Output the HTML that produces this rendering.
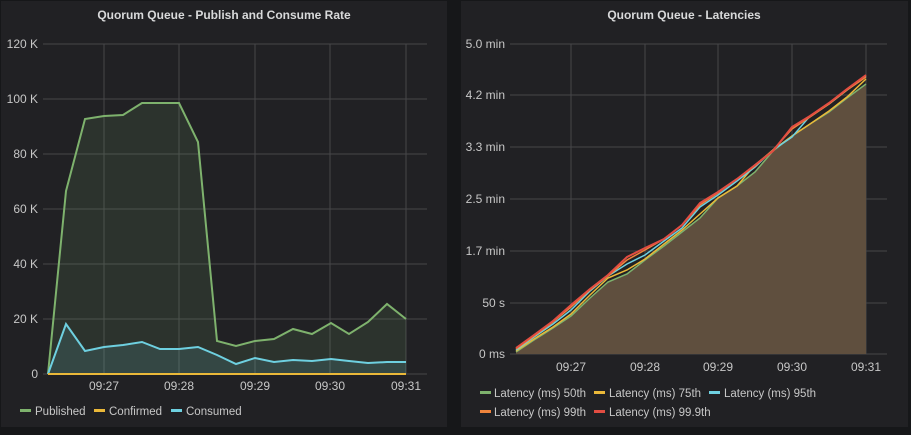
<!DOCTYPE html>
<html><head><style>
body{margin:0;background:#161719;width:911px;height:430px;overflow:hidden;font-family:"Liberation Sans",sans-serif}
svg text{font-family:"Liberation Sans",sans-serif}
</style></head><body>
<svg width="911" height="430" xmlns="http://www.w3.org/2000/svg">
<rect x="0" y="0" width="911" height="430" fill="#161719"/>
<rect x="1" y="1" width="446" height="426" fill="#212124"/>
<rect x="461" y="1" width="447" height="426" fill="#212124"/>
<text x="224" y="19" fill="#d8d9da" font-size="12" font-weight="bold" text-anchor="middle">Quorum Queue - Publish and Consume Rate</text>
<text x="684" y="19" fill="#d8d9da" font-size="12" font-weight="bold" text-anchor="middle">Quorum Queue - Latencies</text>
<g stroke="#464649" stroke-width="1">
<line x1="43" y1="44" x2="427" y2="44"/><line x1="43" y1="99" x2="427" y2="99"/><line x1="43" y1="154" x2="427" y2="154"/><line x1="43" y1="209" x2="427" y2="209"/><line x1="43" y1="264" x2="427" y2="264"/><line x1="43" y1="319" x2="427" y2="319"/><line x1="43" y1="374" x2="427" y2="374"/>
<line x1="104" y1="44" x2="104" y2="374"/><line x1="179" y1="44" x2="179" y2="374"/><line x1="255" y1="44" x2="255" y2="374"/><line x1="330" y1="44" x2="330" y2="374"/><line x1="406" y1="44" x2="406" y2="374"/>
</g>
<g fill="#c7c7c7" font-size="12" text-anchor="end">
<text x="38" y="48">120 K</text><text x="38" y="103">100 K</text><text x="38" y="158">80 K</text><text x="38" y="213">60 K</text><text x="38" y="268">40 K</text><text x="38" y="323">20 K</text><text x="38" y="378">0</text>
</g>
<g fill="#c7c7c7" font-size="12" text-anchor="middle">
<text x="104" y="390">09:27</text><text x="179" y="390">09:28</text><text x="255" y="390">09:29</text><text x="330" y="390">09:30</text><text x="406" y="390">09:31</text>
</g>
<polygon fill="#7eb26d" fill-opacity="0.13" points="48,374 66,191 85,119 104,116 123,115 142,103 160,103 179,103 198,142 217,341 236,346 255,341 274,339 293,329 312,334 331,323 349,334 368,322 387,304 406,319 406,374"/>
<polygon fill="#6ed0e0" fill-opacity="0.13" points="48,374 66,324 85,351 104,347 123,345 142,342 160,349 179,349 198,347 217,355 236,364 255,358 274,362 293,360 312,361 331,359 349,361 368,363 387,362 406,362 406,374"/>
<polyline fill="none" stroke="#7eb26d" stroke-width="2" points="48,374 66,191 85,119 104,116 123,115 142,103 160,103 179,103 198,142 217,341 236,346 255,341 274,339 293,329 312,334 331,323 349,334 368,322 387,304 406,319"/>
<polyline fill="none" stroke="#6ed0e0" stroke-width="2" points="48,374 66,324 85,351 104,347 123,345 142,342 160,349 179,349 198,347 217,355 236,364 255,358 274,362 293,360 312,361 331,359 349,361 368,363 387,362 406,362"/>
<line x1="48" y1="374" x2="406" y2="374" stroke="#eab839" stroke-width="2"/>
<g font-size="11.5" fill="#c7c7c7">
<rect x="20" y="409" width="11" height="3" fill="#7eb26d"/><text x="35" y="415">Published</text>
<rect x="94" y="409" width="11" height="3" fill="#eab839"/><text x="109" y="415">Confirmed</text>
<rect x="171" y="409" width="11" height="3" fill="#6ed0e0"/><text x="186" y="415">Consumed</text>
</g>
<g stroke="#464649" stroke-width="1">
<line x1="510" y1="44" x2="887" y2="44"/><line x1="510" y1="95" x2="887" y2="95"/><line x1="510" y1="147" x2="887" y2="147"/><line x1="510" y1="199" x2="887" y2="199"/><line x1="510" y1="251" x2="887" y2="251"/><line x1="510" y1="303" x2="887" y2="303"/><line x1="510" y1="354" x2="887" y2="354"/>
<line x1="571" y1="44" x2="571" y2="354"/><line x1="645" y1="44" x2="645" y2="354"/><line x1="718" y1="44" x2="718" y2="354"/><line x1="792" y1="44" x2="792" y2="354"/><line x1="866" y1="44" x2="866" y2="354"/>
</g>
<g fill="#c7c7c7" font-size="12" text-anchor="end">
<text x="505" y="48">5.0 min</text><text x="505" y="99">4.2 min</text><text x="505" y="151">3.3 min</text><text x="505" y="203">2.5 min</text><text x="505" y="255">1.7 min</text><text x="505" y="307">50 s</text><text x="505" y="358">0 ms</text>
</g>
<g fill="#c7c7c7" font-size="12" text-anchor="middle">
<text x="571" y="371">09:27</text><text x="645" y="371">09:28</text><text x="718" y="371">09:29</text><text x="792" y="371">09:30</text><text x="866" y="371">09:31</text>
</g>
<polygon fill="#5f4f3e" points="516,352 534,340 553,328 571,316 590,298 608,282 627,274 645,260 664,246 682,232 700,218 718,198 737,186 755,172 773,151 792,136 810,124 829,112 847,98 866,84 866,354 516,354"/>
<polyline fill="none" stroke="#7eb26d" stroke-width="1.5" points="516,352 534,340 553,328 571,316 590,298 608,282 627,274 645,260 664,246 682,232 700,218 718,198 737,186 755,172 773,151 792,136 810,124 829,112 847,98 866,84"/>
<polyline fill="none" stroke="#eab839" stroke-width="1.5" points="516,351 534,339 553,327 571,314 590,295 608,278 627,270 645,259 664,244 682,230 700,214 718,198 737,186 755,165 773,150 792,136 810,124 829,111 847,97 866,79"/>
<polyline fill="none" stroke="#6ed0e0" stroke-width="1.5" points="516,350 534,337 553,324 571,310 590,291 608,276 627,264 645,255 664,241 682,228 700,207 718,195 737,181 755,167 773,150 792,137 810,116 829,104 847,90 866,76"/>
<polyline fill="none" stroke="#ef843c" stroke-width="1.5" points="516,349 534,336 553,322 571,307 590,290 608,276 627,260 645,250 664,239 682,225 700,205 718,193 737,179 755,166 773,150 792,129 810,117 829,104 847,90 866,77"/>
<polyline fill="none" stroke="#e24d42" stroke-width="2" points="516,348 534,335 553,321 571,305 590,289 608,275 627,257 645,248 664,239 682,225 700,203 718,192 737,179 755,165 773,151 792,127 810,116 829,103 847,89 866,75"/>
<g font-size="11.5" fill="#c7c7c7">
<rect x="480" y="391" width="11" height="3" fill="#7eb26d"/><text x="494" y="397">Latency (ms) 50th</text>
<rect x="594" y="391" width="11" height="3" fill="#eab839"/><text x="609" y="397">Latency (ms) 75th</text>
<rect x="709" y="391" width="11" height="3" fill="#6ed0e0"/><text x="724" y="397">Latency (ms) 95th</text>
<rect x="480" y="410" width="11" height="3" fill="#ef843c"/><text x="494" y="416">Latency (ms) 99th</text>
<rect x="594" y="410" width="11" height="3" fill="#e24d42"/><text x="609" y="416">Latency (ms) 99.9th</text>
</g>
</svg>
</body></html>
